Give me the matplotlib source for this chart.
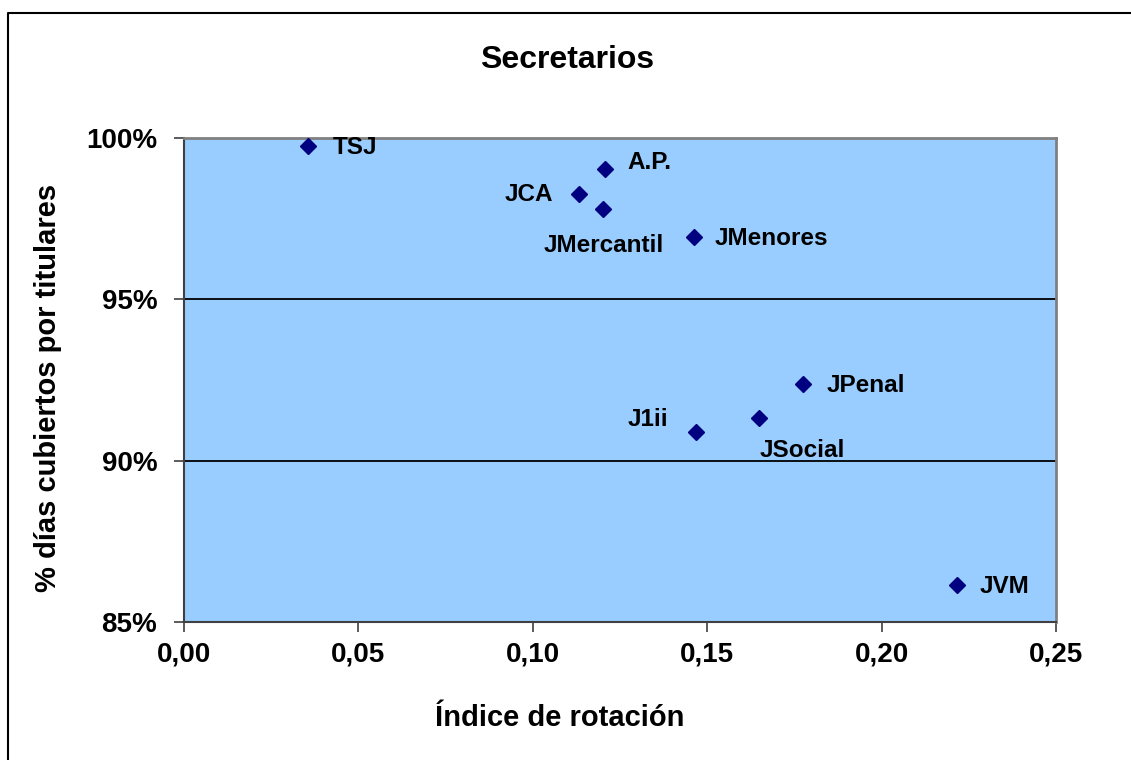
import matplotlib
matplotlib.use("Agg")
import matplotlib.pyplot as plt
from matplotlib.lines import Line2D

plt.rcParams['font.family'] = ['Liberation Sans', 'DejaVu Sans']
plt.rcParams['font.weight'] = 'bold'

# datos
etiquetas = ["TSJ", "A.P.", "JCA", "JMercantil", "JMenores", "JPenal", "JSocial", "J1ii", "JVM"]
rotacion = [0.0355, 0.1208, 0.1133, 0.1203, 0.1463, 0.1774, 0.1650, 0.1467, 0.2216]
cubiertos = [99.75, 99.02, 98.25, 97.79, 96.92, 92.38, 91.32, 90.90, 86.16]

xticks = [0.00, 0.05, 0.10, 0.15, 0.20, 0.25]
xticklabels = ["0,00", "0,05", "0,10", "0,15", "0,20", "0,25"]
yticks = [85, 90, 95, 100]
yticklabels = ["85%", "90%", "95%", "100%"]

# desplazamiento de cada etiqueta (puntos) y alineacion
offsets = {
    "TSJ": ((18, -1), "left"),
    "A.P.": ((16, 5), "left"),
    "JCA": ((-19, 0), "right"),
    "JMercantil": ((0, -26), "center"),
    "JMenores": ((15, -1), "left"),
    "JPenal": ((17, -1), "left"),
    "JSocial": ((0, -23), "left"),
    "J1ii": ((-20, 9), "right"),
    "JVM": ((16, -1), "left"),
}

fig = plt.figure(figsize=(11.31, 7.60), dpi=100)
ax = fig.add_axes([0.1624, 0.1812, 0.7713, 0.6376])
ax.set_facecolor("#99CCFF")

for yv in [90, 95]:
    ax.axhline(yv, color="black", lw=1.3, zorder=1)

ax.plot(rotacion, cubiertos, ls="none", marker="D", ms=8, color="#000080", zorder=3)

for nom, xv, yv in zip(etiquetas, rotacion, cubiertos):
    off, ha = offsets[nom]
    ax.annotate(nom, (xv, yv), xytext=off, textcoords="offset points",
                ha=ha, va="center", fontsize=17.5, fontweight="bold", zorder=4)

ax.set_xlim(0, 0.25)
ax.set_ylim(85, 100)
ax.set_xticks(xticks)
ax.set_xticklabels(xticklabels)
ax.set_yticks(yticks)
ax.set_yticklabels(yticklabels)
ax.tick_params(axis="x", labelsize=20, length=7, width=1.2, color="#404040", pad=7)
ax.tick_params(axis="y", labelsize=20, length=7, width=1.2, color="#404040", pad=12)

for s in ["top", "right"]:
    ax.spines[s].set_color("#808080")
    ax.spines[s].set_linewidth(2)
for s in ["left", "bottom"]:
    ax.spines[s].set_color("#404040")
    ax.spines[s].set_linewidth(1.5)

fig.text(0.501, 0.921, "Secretarios", ha="center", va="center", fontsize=23, fontweight="bold")
fig.text(0.495, 0.055, "Índice de rotación", ha="center", va="center", fontsize=21, fontweight="bold")
fig.text(0.0424, 0.4895, "% días cubiertos por titulares", ha="center", va="center",
         rotation=90, fontsize=21, fontweight="bold")

# marco del grafico
bx = 8 / 1131
by = 1 - 13 / 760
fig.add_artist(Line2D([bx, bx, 1.0], [0.0, by, by], transform=fig.transFigure,
                      color="black", lw=1.5))

fig.savefig("out.png", dpi=100)
